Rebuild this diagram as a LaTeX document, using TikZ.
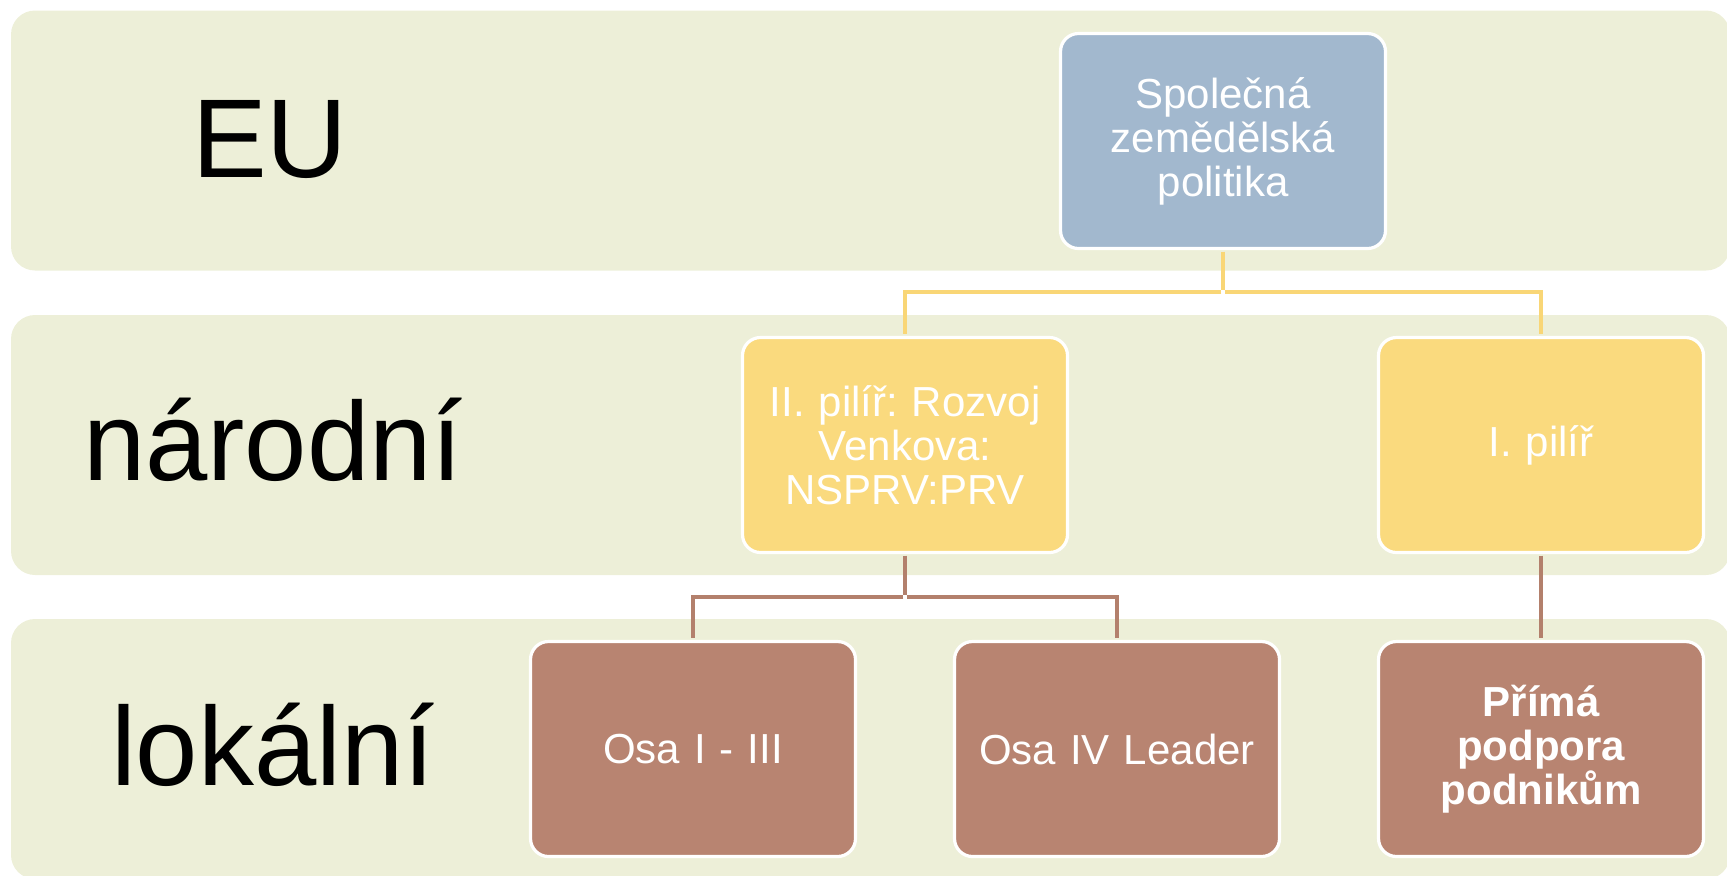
\documentclass[tikz,border=0pt]{standalone}
\usepackage{fontspec}
\setmainfont{Liberation Sans}
\frenchspacing
\definecolor{bandFill}{RGB}{237,239,216}
\definecolor{capBlue}{RGB}{162,184,206}
\definecolor{pillarYellow}{RGB}{250,218,126}
\definecolor{axisBrown}{RGB}{184,132,113}
\definecolor{yellowWire}{RGB}{249,214,118}
\definecolor{brownWire}{RGB}{179,128,108}
\begin{document}
\begin{tikzpicture}[x=0.5pt, y=-0.5pt,
	bandBox/.style={rectangle, fill=bandFill, minimum width=859.5pt, minimum height=130pt, rounded corners=12pt, inner sep=0pt},
	levelLabel/.style={anchor=base, font=\fontsize{56}{60}\selectfont, text=black, inner sep=0pt},
	chartBox/.style={rectangle, draw=white, line width=1.6pt, minimum width=162.5pt, minimum height=107.5pt, rounded corners=9pt, text=white, align=center, text width=150pt, font=\fontsize{21}{22}\selectfont},
	blueBox/.style={chartBox, fill=capBlue},
	yellowBox/.style={chartBox, fill=pillarYellow},
	brownBox/.style={chartBox, fill=axisBrown},
	yellowLink/.style={draw=yellowWire, line width=1.7pt, shorten <=0.8pt, shorten >=0.8pt},
	brownLink/.style={draw=brownWire, line width=1.7pt, shorten <=0.8pt, shorten >=0.8pt}]
\useasboundingbox (0,0) rectangle (1727,875);
\clip (0,0) rectangle (1727,875);

% levels
\node[bandBox](bandEU) at (870.5,140.5){};
\node[bandBox](bandNational) at (870.5,445){};
\node[bandBox](bandLocal) at (870.5,749){};
\node[levelLabel](labelEU) at (270,177){EU};
\node[levelLabel](labelNational) at (273,480){národní};
\node[levelLabel](labelLocal) at (273,785){lokální};

% boxes
\node[blueBox](cap) at (1223,141){Společná\\zemědělská\\politika};
\node[yellowBox](pillarTwo) at (905,445){II. pilíř: Rozvoj\\Venkova:\\NSPRV:PRV};
\node[yellowBox](pillarOne) at (1541,445){I. pilíř};
\node[brownBox](axisOneThree) at (693,749){Osa I - III};
\node[brownBox](axisFour) at (1117,749){Osa IV Leader};
\node[brownBox, font=\fontsize{21}{22}\selectfont\bfseries](directSupport) at (1541,749){Přímá\\podpora\\podnikům};

% links
\coordinate(capFork) at (1223,292);
\draw[yellowLink] (cap.south) -- (capFork);
\draw[yellowLink] (capFork) -| (pillarTwo.north);
\draw[yellowLink] (capFork) -| (pillarOne.north);

\coordinate(pillarTwoFork) at (905,597);
\draw[brownLink] (pillarTwo.south) -- (pillarTwoFork);
\draw[brownLink] (pillarTwoFork) -| (axisOneThree.north);
\draw[brownLink] (pillarTwoFork) -| (axisFour.north);
\draw[brownLink] (pillarOne.south) -- (directSupport.north);
\end{tikzpicture}
\end{document}
